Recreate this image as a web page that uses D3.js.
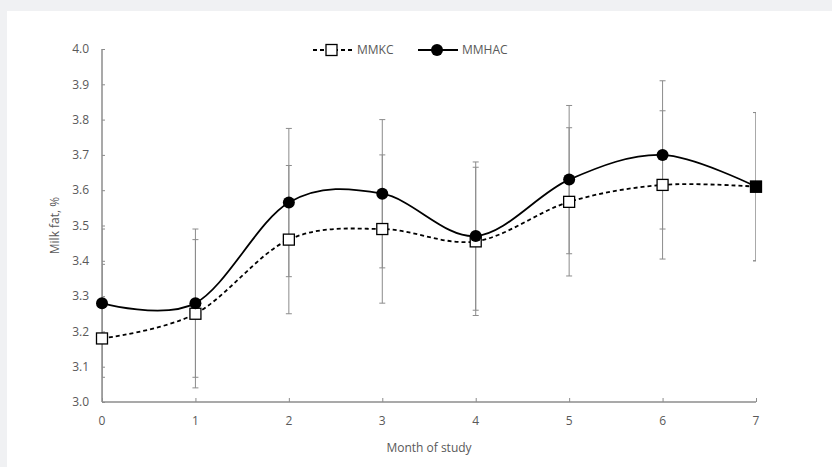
<!DOCTYPE html>
<html>
<head>
<meta charset="utf-8">
<script src="https://cdn.jsdelivr.net/npm/d3@7"></script>
<style>
  body { margin: 0; background: #f0f1f3; }
  #chart { position: absolute; left: 7px; top: 11px; }
  text { font-family: "Open Sans", "Noto Sans", sans-serif; fill: #595959; }
</style>
</head>
<body>
<div id="chart"></div>
<script>
// Data
const months = [0, 1, 2, 3, 4, 5, 6, 7];
const mmkc = [3.18, 3.25, 3.46, 3.49, 3.455, 3.567, 3.615, 3.61];
const mmhac = [3.28, 3.28, 3.565, 3.59, 3.47, 3.63, 3.70, 3.61];
const mmkcErr = [0.21, 0.21, 0.21, 0.21, 0.21, 0.21, 0.21, 0.21];
const mmhacErr = [0.21, 0.21, 0.21, 0.21, 0.21, 0.21, 0.21, 0.21];
const yTicks = [3.0, 3.1, 3.2, 3.3, 3.4, 3.5, 3.6, 3.7, 3.8, 3.9, 4.0];

const width = 825;
const height = 456;
const margin = { top: 38, right: 76, bottom: 65, left: 95 };
const innerW = width - margin.left - margin.right;
const innerH = height - margin.top - margin.bottom;

const svg = d3
  .select("#chart")
  .append("svg")
  .attr("width", width)
  .attr("height", height)
  .style("background", "#fff");

const g = svg
  .append("g")
  .attr("transform", `translate(${margin.left}, ${margin.top})`);

const xScale = d3.scaleLinear().domain([0, 7]).range([0, innerW]);
const yScale = d3.scaleLinear().domain([3.0, 4.0]).range([innerH, 0]);

// Clip for the error bars (they are cut at the plot area edges)
svg
  .append("clipPath")
  .attr("id", "plotclip")
  .append("rect")
  .attr("x", 0)
  .attr("y", 0)
  .attr("width", innerW)
  .attr("height", innerH);

// Error bars
const errGroup = g.append("g").attr("clip-path", "url(#plotclip)");
function drawErrors(values, errs) {
  months.forEach((m, i) => {
    const x = xScale(m);
    const lo = yScale(values[i] - errs[i]);
    const hi = yScale(values[i] + errs[i]);
    errGroup
      .append("line")
      .attr("x1", x).attr("x2", x)
      .attr("y1", lo).attr("y2", hi)
      .attr("stroke", "#8c8c8c")
      .attr("stroke-width", 1);
    [lo, hi].forEach((yy) => {
      errGroup
        .append("line")
        .attr("x1", x - 3).attr("x2", x + 3)
        .attr("y1", yy).attr("y2", yy)
        .attr("stroke", "#8c8c8c")
        .attr("stroke-width", 1);
    });
  });
}
drawErrors(mmkc, mmkcErr);
drawErrors(mmhac, mmhacErr);

// Axes
const yAxis = g
  .append("g")
  .call(
    d3.axisRight(yScale)
      .tickValues(yTicks)
      .tickSize(3)
      .tickFormat("")
  );
yAxis.select(".domain").remove();
yAxis.selectAll("line").attr("stroke", "#8c8c8c");
g.append("line")
  .attr("x1", 0).attr("x2", 0)
  .attr("y1", 0).attr("y2", innerH)
  .attr("stroke", "#8c8c8c")
  .attr("stroke-width", 1.5);
g.selectAll(".ylab")
  .data(yTicks)
  .enter()
  .append("text")
  .attr("x", -13)
  .attr("y", (d) => yScale(d))
  .attr("dy", "0.35em")
  .attr("text-anchor", "end")
  .style("font-size", "12px")
  .text((d) => d.toFixed(1));

const xAxis = g
  .append("g")
  .attr("transform", `translate(0, ${innerH})`)
  .call(d3.axisTop(xScale).tickValues(months).tickSize(4).tickFormat(""));
xAxis.select(".domain").remove();
xAxis.selectAll("line").attr("stroke", "#8c8c8c");
g.append("line")
  .attr("x1", 0).attr("x2", innerW)
  .attr("y1", innerH).attr("y2", innerH)
  .attr("stroke", "#8c8c8c")
  .attr("stroke-width", 1.5);
g.selectAll(".xlab")
  .data(months)
  .enter()
  .append("text")
  .attr("x", (d) => xScale(d))
  .attr("y", innerH + 23)
  .attr("text-anchor", "middle")
  .style("font-size", "12px")
  .text((d) => d);

// Axis titles
g.append("text")
  .attr("x", innerW / 2)
  .attr("y", innerH + 50)
  .attr("text-anchor", "middle")
  .style("font-size", "12px")
  .text("Month of study");

g.append("text")
  .attr("transform", `translate(-43, ${innerH / 2}) rotate(-90)`)
  .attr("text-anchor", "middle")
  .style("font-size", "12px")
  .text("Milk fat, %");

// Lines
const line = (vals) =>
  d3.line()
    .x((d, i) => xScale(months[i]))
    .y((d) => yScale(d))
    .curve(d3.curveCardinal.tension(0))(vals);

g.append("path")
  .attr("d", line(mmkc))
  .attr("fill", "none")
  .attr("stroke", "#000")
  .attr("stroke-width", 1.8)
  .attr("stroke-dasharray", "4,3");

g.append("path")
  .attr("d", line(mmhac))
  .attr("fill", "none")
  .attr("stroke", "#000")
  .attr("stroke-width", 1.8);

// Markers
g.selectAll(".sq")
  .data(mmkc)
  .enter()
  .append("rect")
  .attr("x", (d, i) => xScale(months[i]) - 5.5)
  .attr("y", (d) => yScale(d) - 5.5)
  .attr("width", 11)
  .attr("height", 11)
  .attr("fill", "#fff")
  .attr("stroke", "#000")
  .attr("stroke-width", 1.3);

g.selectAll(".dot")
  .data(mmhac)
  .enter()
  .append("circle")
  .attr("cx", (d, i) => xScale(months[i]))
  .attr("cy", (d) => yScale(d))
  .attr("r", (d, i) => (i === months.length - 1 ? 0 : 6))
  .attr("fill", "#000");

// last point: both series overlap, drawn as a solid square
g.append("rect")
  .attr("x", xScale(months[months.length - 1]) - 6)
  .attr("y", yScale(mmkc[mmkc.length - 1]) - 6)
  .attr("width", 12)
  .attr("height", 12)
  .attr("fill", "#000");

// Legend
const leg = svg.append("g").attr("transform", "translate(0, 39)");
leg.append("line")
  .attr("x1", 306).attr("x2", 346)
  .attr("y1", 0).attr("y2", 0)
  .attr("stroke", "#000").attr("stroke-width", 1.8)
  .attr("stroke-dasharray", "4,3");
leg.append("rect")
  .attr("x", 319).attr("y", -5.5)
  .attr("width", 11).attr("height", 11)
  .attr("fill", "#fff").attr("stroke", "#000").attr("stroke-width", 1.3);
leg.append("text")
  .attr("x", 350).attr("y", 0).attr("dy", "0.35em")
  .style("font-size", "12px")
  .text("MMKC");
leg.append("line")
  .attr("x1", 411).attr("x2", 451)
  .attr("y1", 0).attr("y2", 0)
  .attr("stroke", "#000").attr("stroke-width", 1.8);
leg.append("circle")
  .attr("cx", 430).attr("cy", 0).attr("r", 6).attr("fill", "#000");
leg.append("text")
  .attr("x", 455).attr("y", 0).attr("dy", "0.35em")
  .style("font-size", "12px")
  .text("MMHAC");
</script>
</body>
</html>
